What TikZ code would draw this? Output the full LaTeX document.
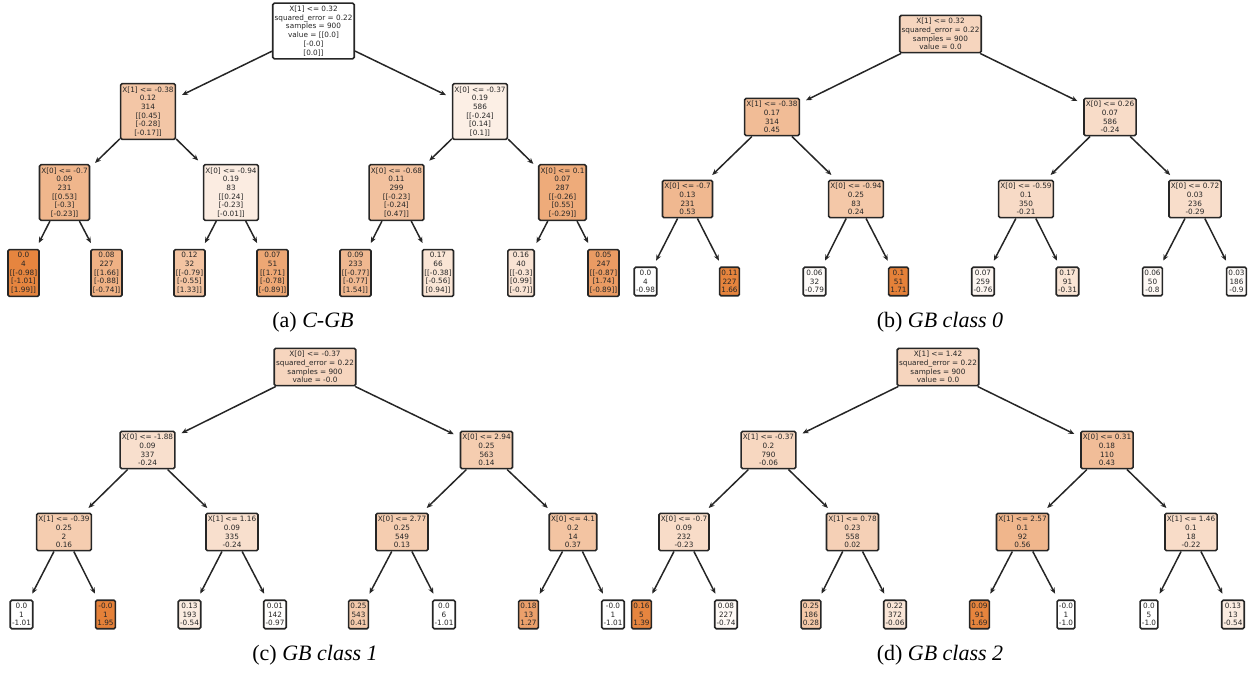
\documentclass[tikz,border=0pt]{standalone}
\usepackage{fontspec}
\setmainfont{Liberation Serif}
\newfontfamily\treefont{DejaVu Sans}
\usetikzlibrary{arrows.meta}
\definecolor{treeorange}{RGB}{229,129,57}

\begin{document}
\begin{tikzpicture}[x=1pt,y=-1pt,shorten >=6.5pt,-]
            \tikzstyle{split}=[draw=black!85,rounded corners=1.5pt,line width=1.6pt,inner xsep=1.8pt,inner ysep=2.8pt,align=center,text=black!85,font=\treefont\fontsize{7.3}{8.7}\selectfont]
            \tikzstyle{branch}=[draw=black!85,line width=1.5pt,-{Stealth[length=6pt,width=5pt]}]
            \tikzstyle{caption}=[inner sep=0pt,font=\fontsize{22}{26}\selectfont]
            \useasboundingbox (0,0) rectangle (1252,672);

                % (a) C-GB
                \node[split,fill=white] (A-1) at (313.5,31){X[1] <= 0.32\\squared\_error = 0.22\\samples = 900\\value = [[0.0]\\{}[-0.0]\\{}[0.0]]};
                \node[split,fill=treeorange!45] (A-2) at (148,111.5){X[1] <= -0.38\\0.12\\314\\{}[[0.45]\\{}[-0.28]\\{}[-0.17]]};
                \node[split,fill=treeorange!13] (A-3) at (480,111.5){X[0] <= -0.37\\0.19\\586\\{}[[-0.24]\\{}[0.14]\\{}[0.1]]};
                \node[split,fill=treeorange!58] (A-4) at (64.5,192.5){X[0] <= -0.7\\0.09\\231\\{}[[0.53]\\{}[-0.3]\\{}[-0.23]]};
                \node[split,fill=treeorange!15] (A-5) at (231,192.5){X[0] <= -0.94\\0.19\\83\\{}[[0.24]\\{}[-0.23]\\{}[-0.01]]};
                \node[split,fill=treeorange!49] (A-6) at (396.5,192.5){X[0] <= -0.68\\0.11\\299\\{}[[-0.23]\\{}[-0.24]\\{}[0.47]]};
                \node[split,fill=treeorange!67] (A-7) at (562.5,192.5){X[0] <= 0.1\\0.07\\287\\{}[[-0.26]\\{}[0.55]\\{}[-0.29]]};
                \node[split,fill=treeorange!97] (A-8) at (23.5,273){0.0\\4\\{}[[-0.98]\\{}[-1.01]\\{}[1.99]]};
                \node[split,fill=treeorange!62] (A-9) at (106.5,273){0.08\\227\\{}[[1.66]\\{}[-0.88]\\{}[-0.74]]};
                \node[split,fill=treeorange!47] (A-10) at (189.5,273){0.12\\32\\{}[[-0.79]\\{}[-0.55]\\{}[1.33]]};
                \node[split,fill=treeorange!70] (A-11) at (272.5,273){0.07\\51\\{}[[1.71]\\{}[-0.78]\\{}[-0.89]]};
                \node[split,fill=treeorange!56] (A-12) at (355.5,273){0.09\\233\\{}[[-0.77]\\{}[-0.77]\\{}[1.54]]};
                \node[split,fill=treeorange!21] (A-13) at (438,273){0.17\\66\\{}[[-0.38]\\{}[-0.56]\\{}[0.94]]};
                \node[split,fill=treeorange!22] (A-14) at (521,273){0.16\\40\\{}[[-0.3]\\{}[0.99]\\{}[-0.7]]};
                \node[split,fill=treeorange!79] (A-15) at (603.5,273){0.05\\247\\{}[[-0.87]\\{}[1.74]\\{}[-0.89]]};
                \node[caption] (cap-A) at (313,322){(a) \textit{C-GB}};

                % (b) GB class 0
                \node[split,fill=treeorange!33] (B-1) at (940.5,34){X[1] <= 0.32\\squared\_error = 0.22\\samples = 900\\value = 0.0};
                \node[split,fill=treeorange!53] (B-2) at (772,117){X[1] <= -0.38\\0.17\\314\\0.45};
                \node[split,fill=treeorange!28] (B-3) at (1110,117){X[0] <= 0.26\\0.07\\586\\-0.24};
                \node[split,fill=treeorange!56] (B-4) at (687.5,199){X[0] <= -0.7\\0.13\\231\\0.53};
                \node[split,fill=treeorange!44] (B-5) at (856,199){X[0] <= -0.94\\0.25\\83\\0.24};
                \node[split,fill=treeorange!29] (B-6) at (1026,199){X[0] <= -0.59\\0.1\\350\\-0.21};
                \node[split,fill=treeorange!27] (B-7) at (1195,199){X[0] <= 0.72\\0.03\\236\\-0.29};
                \node[split,fill=white] (B-8) at (645.5,281.5){0.0\\4\\-0.98};
                \node[split,fill=treeorange!98] (B-9) at (729.5,281.5){0.11\\227\\1.66};
                \node[split,fill=treeorange!3] (B-10) at (814.5,281.5){0.06\\32\\-0.79};
                \node[split,fill=treeorange] (B-11) at (898.5,281.5){0.1\\51\\1.71};
                \node[split,fill=treeorange!7] (B-12) at (983,281.5){0.07\\259\\-0.76};
                \node[split,fill=treeorange!21] (B-13) at (1067.5,281.5){0.17\\91\\-0.31};
                \node[split,fill=treeorange!5] (B-14) at (1152.5,281.5){0.06\\50\\-0.8};
                \node[split,fill=treeorange!3] (B-15) at (1236.5,281.5){0.03\\186\\-0.9};
                \node[caption] (cap-B) at (940,322){(b) \textit{GB class 0}};

                % (c) GB class 1
                \node[split,fill=treeorange!33] (C-1) at (315,367){X[0] <= -0.37\\squared\_error = 0.22\\samples = 900\\value = -0.0};
                \node[split,fill=treeorange!25] (C-2) at (147.5,450){X[0] <= -1.88\\0.09\\337\\-0.24};
                \node[split,fill=treeorange!40] (C-3) at (486.5,450){X[0] <= 2.94\\0.25\\563\\0.14};
                \node[split,fill=treeorange!40] (C-4) at (64,532){X[1] <= -0.39\\0.25\\2\\0.16};
                \node[split,fill=treeorange!25] (C-5) at (232,532){X[1] <= 1.16\\0.09\\335\\-0.24};
                \node[split,fill=treeorange!40] (C-6) at (402,532){X[0] <= 2.77\\0.25\\549\\0.13};
                \node[split,fill=treeorange!47] (C-7) at (573,532){X[0] <= 4.1\\0.2\\14\\0.37};
                \node[split,fill=white] (C-8) at (21.5,614.5){0.0\\1\\-1.01};
                \node[split,fill=treeorange] (C-9) at (105.5,614.5){-0.0\\1\\1.95};
                \node[split,fill=treeorange!15] (C-10) at (189.5,614.5){0.13\\193\\-0.54};
                \node[split,fill=treeorange!1] (C-11) at (275,614.5){0.01\\142\\-0.97};
                \node[split,fill=treeorange!42] (C-12) at (358.5,614.5){0.25\\543\\0.41};
                \node[split,fill=white] (C-13) at (444,614.5){0.0\\6\\-1.01};
                \node[split,fill=treeorange!75] (C-14) at (528.5,614.5){0.18\\13\\1.27};
                \node[split,fill=white] (C-15) at (613,614.5){-0.0\\1\\-1.01};
                \node[caption] (cap-C) at (315,655){(c) \textit{GB class 1}};

                % (d) GB class 2
                \node[split,fill=treeorange!33] (D-1) at (938,367){X[1] <= 1.42\\squared\_error = 0.22\\samples = 900\\value = 0.0};
                \node[split,fill=treeorange!32] (D-2) at (768.5,450){X[1] <= -0.37\\0.2\\790\\-0.06};
                \node[split,fill=treeorange!52] (D-3) at (1107,450){X[0] <= 0.31\\0.18\\110\\0.43};
                \node[split,fill=treeorange!28] (D-4) at (684,532){X[0] <= -0.7\\0.09\\232\\-0.23};
                \node[split,fill=treeorange!37] (D-5) at (852.5,532){X[1] <= 0.78\\0.23\\558\\0.02};
                \node[split,fill=treeorange!58] (D-6) at (1022.5,532){X[1] <= 2.57\\0.1\\92\\0.56};
                \node[split,fill=treeorange!28] (D-7) at (1191,532){X[1] <= 1.46\\0.1\\18\\-0.22};
                \node[split,fill=treeorange!97] (D-8) at (641.5,614.5){0.16\\5\\1.39};
                \node[split,fill=treeorange!5] (D-9) at (726,614.5){0.08\\227\\-0.74};
                \node[split,fill=treeorange!44] (D-10) at (811,614.5){0.25\\186\\0.28};
                \node[split,fill=treeorange!20] (D-11) at (895,614.5){0.22\\372\\-0.06};
                \node[split,fill=treeorange!98] (D-12) at (979.5,614.5){0.09\\91\\1.69};
                \node[split,fill=white] (D-13) at (1066,614.5){-0.0\\1\\-1.0};
                \node[split,fill=white] (D-14) at (1149,614.5){0.0\\5\\-1.0};
                \node[split,fill=treeorange!15] (D-15) at (1233,614.5){0.13\\13\\-0.54};
                \node[caption] (cap-D) at (940,655){(d) \textit{GB class 2}};

                \foreach \t in {A,B,C,D}
                    \foreach \from/\to in {1/2, 1/3, 2/4, 2/5, 3/6, 3/7, 4/8, 4/9, 5/10, 5/11, 6/12, 6/13, 7/14, 7/15}
                        \draw[branch] (\t-\from) -- (\t-\to);
        \end{tikzpicture}
\end{document}
